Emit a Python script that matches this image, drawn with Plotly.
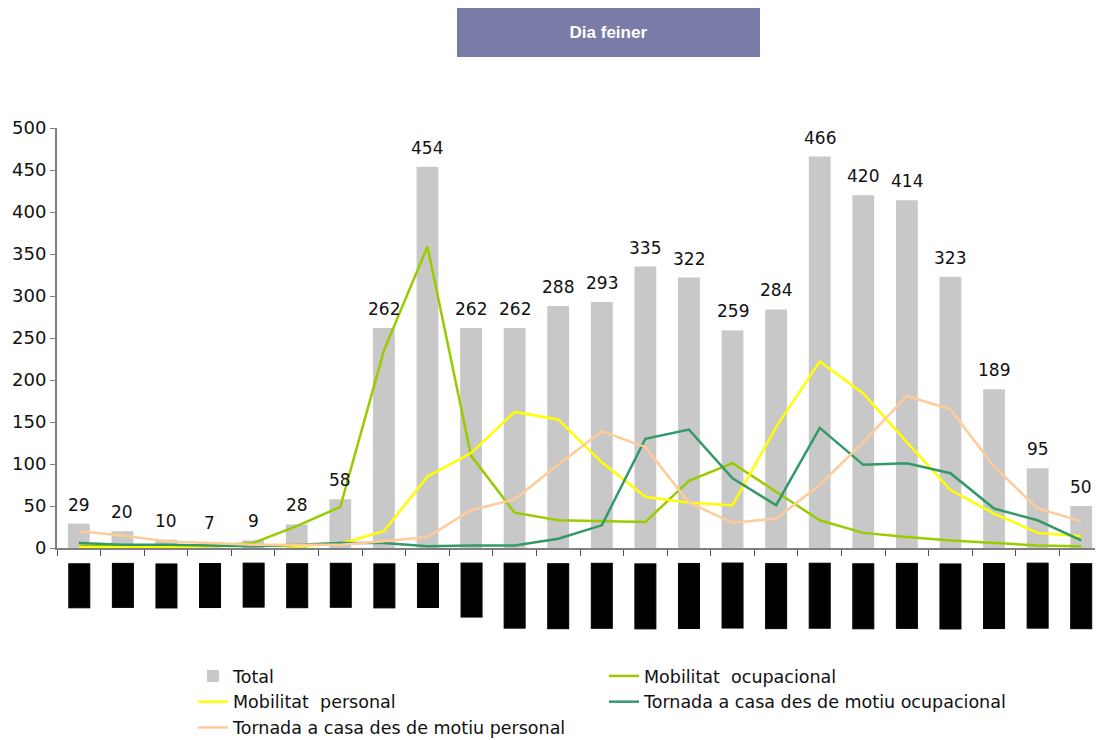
import plotly.graph_objects as go

# Hores del dia (etiquetes de l'eix X)
hores = [f"{h}-{h + 1}h" for h in range(24)]

total = [29, 20, 10, 7, 9, 28, 58, 262, 454, 262, 262, 288,
         293, 335, 322, 259, 284, 466, 420, 414, 323, 189, 95, 50]
mob_ocupacional = [2, 2, 2, 3, 6, 26, 49, 235, 359, 110, 42, 33,
                   32, 31, 80, 101, 67, 33, 18, 13, 9, 6, 3, 2]
mob_personal = [1, 1, 1, 2, 3, 2, 5, 20, 85, 113, 162, 153,
                102, 61, 54, 51, 144, 222, 184, 126, 69, 41, 18, 14]
tornada_ocupacional = [6, 4, 4, 3, 2, 4, 6, 6, 2, 3, 3, 11,
                       27, 130, 141, 83, 51, 143, 99, 101, 89, 47, 33, 9]
tornada_personal = [20, 15, 8, 6, 4, 4, 4, 8, 13, 45, 58, 99,
                    139, 120, 54, 30, 35, 75, 126, 181, 165, 97, 47, 32]

FONT = "DejaVu Sans"

fig = go.Figure()

fig.add_trace(go.Bar(
    x=hores, y=total, name="Total",
    marker=dict(color="#C8C8C8", line=dict(width=0)),
))

series = [
    ("Mobilitat  ocupacional", mob_ocupacional, "#99CC00"),
    ("Mobilitat  personal", mob_personal, "#FFFF00"),
    ("Tornada a casa des de motiu ocupacional", tornada_ocupacional, "#339966"),
    ("Tornada a casa des de motiu personal", tornada_personal, "#FFCC99"),
]
for nom, vals, color in series:
    fig.add_trace(go.Scatter(
        x=hores, y=vals, name=nom, mode="lines",
        line=dict(color=color, width=2.5),
    ))

# etiquetes de valor sobre les barres
for h, v in zip(hores, total):
    fig.add_annotation(
        x=h, y=v, text=str(v), showarrow=False,
        yanchor="bottom", yshift=7,
        font=dict(family=FONT, size=17, color="#111111"),
    )

# etiquetes d'hora girades (es veuen com a blocs negres)
for h in hores:
    fig.add_annotation(
        x=h, y=0, yref="paper", text=h, showarrow=False,
        textangle=-90, yanchor="top", yshift=-15,
        font=dict(family=FONT, size=17, color="black"),
        bgcolor="black", bordercolor="black", borderwidth=1, borderpad=2,
        height=16,
    )

# títol dins d'una caixa
fig.add_annotation(
    xref="paper", yref="paper", x=0.527, y=1.2274, yanchor="middle",
    text="<b>Dia feiner</b>", showarrow=False,
    width=301, height=47, borderpad=0,
    bgcolor="#7B7BA8", bordercolor="#7B7BA8", borderwidth=1,
    font=dict(family="Liberation Sans", size=17, color="white"),
)

fig.update_layout(
    width=1095, height=732,
    paper_bgcolor="white", plot_bgcolor="white",
    margin=dict(l=49, r=0, t=120, b=192, autoexpand=False),
    bargap=0.5,
    showlegend=True,
    legend=dict(
        orientation="h", x=0.13, xanchor="left", y=-0.262, yanchor="top",
        entrywidth=366, entrywidthmode="pixels",
        font=dict(family=FONT, size=17.5, color="#111111"),
        bgcolor="rgba(0,0,0,0)",
    ),
    font=dict(family=FONT, size=17, color="#111111"),
)

fig.update_xaxes(
    type="category",
    showticklabels=False, showline=True, linecolor="#808080", linewidth=2,
    ticks="outside", tickson="boundaries", ticklen=6, tickcolor="#555555",
    showgrid=False, zeroline=False,
)
fig.update_yaxes(
    range=[0, 500], dtick=50, showline=True, linecolor="#808080", linewidth=2,
    ticks="outside", ticklen=5, tickcolor="#808080", showgrid=False,
    zeroline=False, tickfont=dict(family=FONT, size=18, color="#111111"),
)

fig.write_html("out.html")
